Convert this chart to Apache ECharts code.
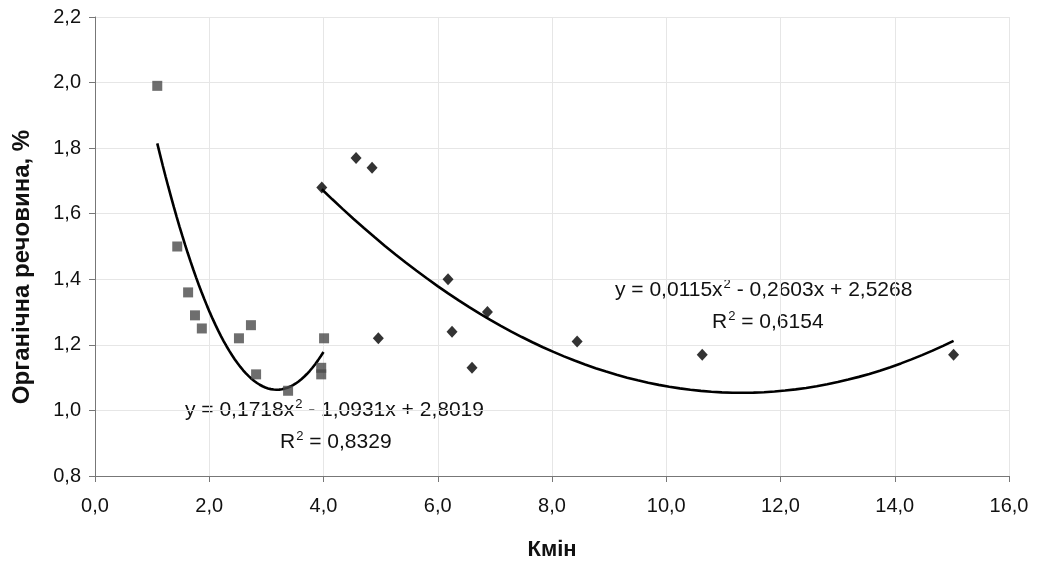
<!DOCTYPE html>
<html><head><meta charset="utf-8">
<script src="https://cdn.jsdelivr.net/npm/echarts@6/dist/echarts.min.js"></script>
<style>html,body{margin:0;padding:0;background:#fff}#c{width:1039px;height:562px}</style>
</head><body><div id="c"></div>
<script>
// Series 1 (squares)
const sqX = [1.09, 1.44, 1.63, 1.75, 1.87, 2.52, 2.73, 2.82, 3.38, 3.96, 3.96, 4.01];
const sqY = [1.99, 1.50, 1.36, 1.29, 1.25, 1.22, 1.26, 1.11, 1.06, 1.13, 1.11, 1.22];
// Series 2 (diamonds)
const dmX = [3.97, 4.57, 4.85, 4.96, 6.18, 6.25, 6.60, 6.87, 8.44, 10.63, 15.03];
const dmY = [1.68, 1.77, 1.74, 1.22, 1.40, 1.24, 1.13, 1.30, 1.21, 1.17, 1.17];
// Trendline coefficients shown on the chart (a, b, c) and ranges
const trend1 = [0.1718, -1.0931, 2.8019];
const trend1Range = [1.09, 4.0];
const trend2 = [0.0115, -0.2603, 2.5268];
const trend2Range = [3.97, 15.03];
const xName = 'Кмін';
const yName = 'Органічна речовина, %';

function curve(c, r) {
  const pts = [];
  const n = 60;
  for (let i = 0; i <= n; i++) {
    const x = r[0] + (r[1] - r[0]) * i / n;
    pts.push([x, c[0] * x * x + c[1] * x + c[2]]);
  }
  return pts;
}
const fmt = v => v.toFixed(1).replace('.', ',');
const font = 'Liberation Sans, Arial, sans-serif';
const rich = {
  n: { fontFamily: font, fontSize: 21, fill: '#111', lineHeight: 24 },
  s: { fontFamily: font, fontSize: 13, fill: '#111', lineHeight: 24, padding: [0, 0, 12, 1] }
};

const chart = echarts.init(document.getElementById('c'));
chart.setOption({
  animation: false,
  backgroundColor: '#fff',
  grid: { left: 95, right: 30, top: 17, bottom: 86, containLabel: false, outerBoundsMode: 'none' },
  xAxis: {
    type: 'value', min: 0, max: 16, interval: 2,
    name: xName, nameLocation: 'middle', nameGap: 63,
    nameTextStyle: { fontFamily: font, fontSize: 22, fontWeight: 'bold', color: '#111' },
    axisLine: { lineStyle: { color: '#777' } },
    axisTick: { show: true, length: 6, lineStyle: { color: '#777' } },
    axisLabel: { formatter: fmt, fontFamily: font, fontSize: 20, color: '#111', margin: 20 },
    splitLine: { show: true, lineStyle: { color: '#e6e6e6', width: 1 } }
  },
  yAxis: {
    type: 'value', min: 0.8, max: 2.2, interval: 0.2,
    axisLine: { show: true, lineStyle: { color: '#777' } },
    axisTick: { show: true, length: 6, lineStyle: { color: '#777' } },
    axisLabel: { formatter: fmt, fontFamily: font, fontSize: 20, color: '#111', margin: 14 },
    splitLine: { show: true, lineStyle: { color: '#e6e6e6', width: 1 } }
  },
  series: [
    { type: 'line', data: curve(trend1, trend1Range), showSymbol: false,
      lineStyle: { color: '#000', width: 2.6 }, z: 2 },
    { type: 'line', data: curve(trend2, trend2Range), showSymbol: false,
      lineStyle: { color: '#000', width: 2.6 }, z: 2 },
    { type: 'scatter', data: sqX.map((x, i) => [x, sqY[i]]), symbol: 'rect', symbolSize: 10,
      itemStyle: { color: '#4a4a4a' }, z: 3 },
    { type: 'scatter', data: dmX.map((x, i) => [x, dmY[i]]), symbol: 'diamond', symbolSize: [11, 12],
      itemStyle: { color: '#000' }, z: 3 }
  ],
  graphic: [
    { type: 'text', x: 22, y: 267, rotation: Math.PI / 2,
      style: { text: yName, fontFamily: font, fontSize: 24, fontWeight: 'bold', fill: '#111', align: 'center', verticalAlign: 'middle' } },
    { type: 'text', x: 185, y: 410, style: { text: '{n|y = 0,1718x}{s|2}{n| - 1,0931x + 2,8019}', rich, verticalAlign: 'middle' } },
    { type: 'text', x: 280, y: 442, style: { text: '{n|R}{s|2}{n| = 0,8329}', rich, verticalAlign: 'middle' } },
    { type: 'text', x: 615, y: 290, style: { text: '{n|y = 0,0115x}{s|2}{n| - 0,2603x + 2,5268}', rich, verticalAlign: 'middle' } },
    { type: 'text', x: 712, y: 322, style: { text: '{n|R}{s|2}{n| = 0,6154}', rich, verticalAlign: 'middle' } }
  ]
});
</script></body></html>
